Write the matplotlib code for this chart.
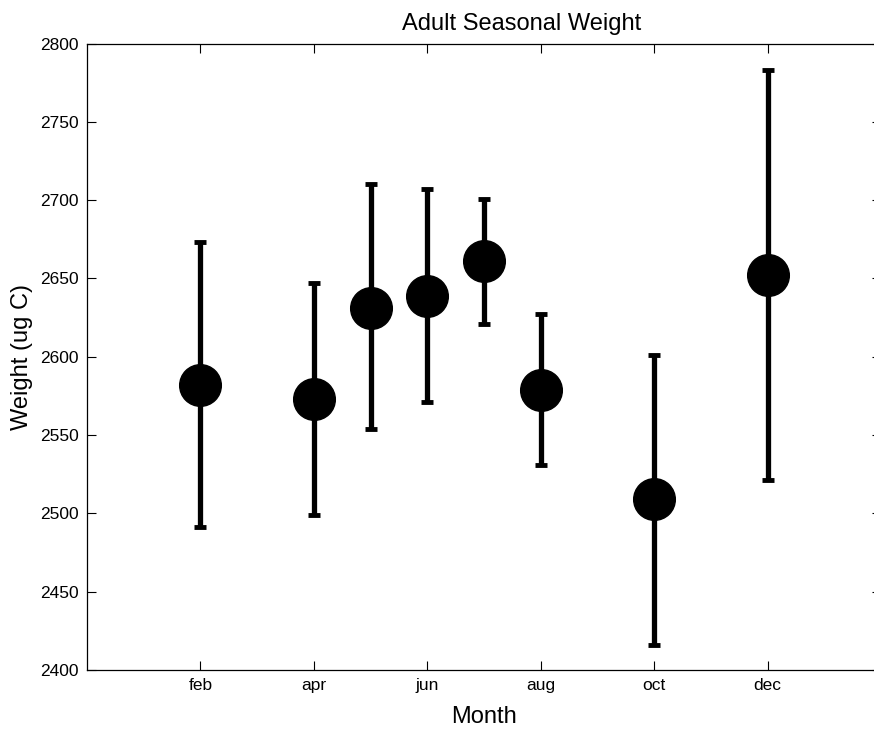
import matplotlib
matplotlib.use("Agg")
import matplotlib.pyplot as plt
import numpy as np

# month number, mean weight and error bar ends
months = [2, 4, 5, 6, 7, 8, 10, 12]
weight = [2582, 2573, 2631, 2639, 2661, 2579, 2509, 2652]
upper = [2673, 2647, 2710, 2707, 2701, 2627, 2601, 2783]
lower = [2491, 2499, 2554, 2571, 2621, 2531, 2416, 2521]

tick_pos = [2, 4, 6, 8, 10, 12]
tick_labels = ["feb", "apr", "jun", "aug", "oct", "dec"]

plt.rcParams['font.family'] = ['Liberation Sans', 'DejaVu Sans']

weight = np.array(weight)
yerr = [weight - np.array(lower), np.array(upper) - weight]

fig = plt.figure(figsize=(8.74, 7.29), dpi=100)
ax = fig.add_axes([87 / 874, 1 - 670 / 729, (881 - 87) / 874, (670 - 43.5) / 729])

ax.errorbar(months, weight, yerr=yerr, fmt='o', color='black',
            markersize=30, elinewidth=3.8, capsize=4.5, capthick=3.5)

ax.set_xlim(0, 14)
ax.set_ylim(2400, 2800)
ax.set_xticks(tick_pos)
ax.set_xticklabels(tick_labels)
ax.set_yticks(np.arange(2400, 2801, 50))

ax.tick_params(direction='in', top=True, right=True, length=6.5, width=0.8,
               labelsize=12.5, pad=6)
for s in ax.spines.values():
    s.set_linewidth(0.9)

ax.set_title("Adult Seasonal Weight", fontsize=17, x=0.547, pad=10)
ax.set_xlabel("Month", fontsize=17, labelpad=9)
ax.set_ylabel("Weight (ug C)", fontsize=17, labelpad=5)

fig.savefig("out.png", dpi=100)
